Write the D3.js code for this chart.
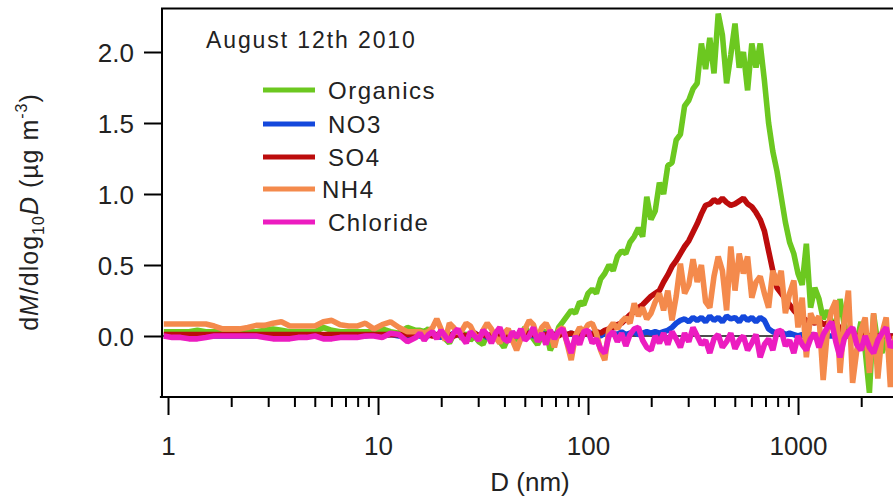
<!DOCTYPE html>
<html>
<head>
<meta charset="utf-8">
<script src="https://cdn.jsdelivr.net/npm/d3@7/dist/d3.min.js"></script>
<style>
  html, body { margin: 0; padding: 0; background: #fff; }
  svg { display: block; font-family: "Liberation Sans", Arial, sans-serif; }
</style>
</head>
<body>
<svg id="chart" width="893" height="498"></svg>
<script>
// Particle diameter bins (nm)
const diam = [
  0.955, 1.047, 1.148, 1.259, 1.380, 1.514, 1.660, 1.820, 1.995, 2.188,
  2.399, 2.630, 2.884, 3.162, 3.467, 3.802, 4.169, 4.571, 5.012, 5.495,
  6.026, 6.607, 7.244, 7.943, 8.710, 9.550, 10.47, 11.48, 12.59, 13.80, 15.14,
  15.85, 16.60, 17.38, 18.20, 19.05, 19.95, 20.89, 21.88, 22.91, 23.99,
  25.12, 26.30, 27.54, 28.84, 30.20, 31.62, 33.11, 34.67, 36.31, 38.02,
  39.81, 41.69, 43.65, 45.71, 47.86, 50.12, 52.48, 54.95, 57.54, 60.26,
  63.10, 66.07, 69.18, 72.44, 75.86, 79.43, 83.18, 87.10, 91.20, 95.50,
  100.0, 104.7, 109.6, 114.8, 120.2, 125.9, 131.8, 138.0, 144.5, 151.4,
  158.5, 166.0, 173.8, 182.0, 190.5, 199.5, 208.9, 218.8, 229.1, 239.9,
  251.2, 263.0, 275.4, 288.4, 302.0, 316.2, 331.1, 346.7, 363.1, 380.2,
  398.1, 416.9, 436.5, 457.1, 478.6, 501.2, 524.8, 549.5, 575.4, 602.6,
  631.0, 660.7, 691.8, 724.4, 758.6, 794.3, 831.8, 871.0, 912.0, 955.0,
  1000, 1047, 1096, 1148, 1202, 1259, 1318, 1380, 1445, 1514,
  1585, 1660, 1738, 1820, 1905, 1995, 2089, 2188, 2291, 2399,
  2512, 2630, 2754, 2884
];

// dM/dlog10D (ug m-3) per species, one value per diameter bin
const organics = [
  0.03, 0.03, 0.03, 0.03, 0.04, 0.03, 0.03, 0.03, 0.03, 0.03,
  0.03, 0.03, 0.04, 0.05, 0.04, 0.03, 0.03, 0.03, 0.03, 0.06,
  0.04, 0.03, 0.03, 0.03, 0.03, 0.03, 0.05, 0.03, 0.02, 0.06, 0.04,
  0.04, 0.03, 0.05, 0.02, 0.00, 0.03, -0.02, -0.05, 0.01, 0.03,
  -0.02, 0.02, -0.03, 0.00, -0.04, -0.06, 0.01, -0.02, 0.03, -0.04,
  -0.08, -0.01, 0.02, -0.03, 0.01, 0.06, 0.02, -0.02, -0.06, 0.00,
  0.04, -0.10, -0.04, 0.06, 0.10, 0.14, 0.18, 0.16, 0.24, 0.22,
  0.30, 0.33, 0.30, 0.40, 0.44, 0.50, 0.46, 0.56, 0.60, 0.58,
  0.66, 0.70, 0.76, 0.70, 0.98, 0.82, 0.88, 1.08, 1.00, 1.20,
  1.22, 1.38, 1.42, 1.62, 1.66, 1.74, 1.78, 2.06, 1.88, 2.10,
  1.85, 2.27, 2.12, 1.78, 1.98, 2.20, 1.89, 2.00, 1.73, 2.06,
  1.89, 2.06, 1.80, 1.50, 1.30, 1.16, 0.98, 0.80, 0.66, 0.58,
  0.44, 0.36, 0.65, 0.20, 0.34, 0.26, 0.12, 0.18, 0.10, 0.08,
  0.26, 0.08, 0.02, 0.05, -0.05, 0.10, -0.10, -0.40, 0.15, -0.05,
  -0.12, 0.02, -0.20, -0.10
];

const no3 = [
  0.00, 0.00, 0.00, 0.00, 0.00, 0.00, 0.00, 0.00, 0.00, 0.00,
  0.00, 0.00, 0.00, 0.00, 0.00, 0.00, 0.00, 0.00, 0.00, 0.00,
  0.00, 0.00, 0.00, 0.00, 0.00, 0.01, 0.00, 0.01, 0.00, 0.00, 0.01,
  0.00, 0.01, 0.00, 0.02, 0.00, -0.01, 0.01, 0.00, 0.02, 0.01,
  0.00, -0.01, 0.01, 0.02, 0.00, 0.01, -0.01, 0.00, 0.02, 0.01,
  0.00, 0.01, 0.02, 0.00, -0.01, 0.01, 0.02, 0.00, 0.01, 0.02,
  0.01, 0.02, 0.00, 0.03, 0.02, 0.01, 0.02, 0.00, 0.01, 0.02,
  0.01, 0.02, 0.01, 0.00, 0.02, 0.01, 0.02, 0.01, 0.03, 0.01,
  0.02, 0.03, 0.01, 0.02, 0.03, 0.02, 0.03, 0.02, 0.03, 0.04,
  0.06, 0.09, 0.11, 0.12, 0.10, 0.13, 0.11, 0.13, 0.10, 0.14,
  0.11, 0.13, 0.10, 0.14, 0.12, 0.13, 0.10, 0.14, 0.11, 0.13,
  0.10, 0.13, 0.11, 0.05, 0.03, 0.02, 0.03, 0.01, 0.02, 0.01,
  0.00, 0.01, 0.00, 0.01, 0.00, 0.00, 0.01, 0.00, 0.00, 0.00,
  0.00, 0.00, 0.00, 0.00, 0.00, 0.00, 0.00, 0.00, 0.00, 0.00,
  0.00, 0.00, 0.00, 0.00
];

const so4 = [
  0.01, 0.01, 0.01, 0.01, 0.01, 0.01, 0.01, 0.01, 0.01, 0.01,
  0.01, 0.01, 0.01, 0.01, 0.01, 0.01, 0.01, 0.01, 0.01, 0.01,
  0.01, 0.01, 0.01, 0.01, 0.01, 0.01, 0.01, 0.01, 0.01, 0.01, 0.01,
  0.01, 0.00, 0.01, 0.00, 0.01, 0.01, 0.00, 0.01, 0.00, 0.01,
  0.01, 0.00, 0.01, 0.02, 0.00, 0.01, 0.00, 0.01, 0.01, 0.00,
  0.01, 0.02, 0.00, 0.01, 0.00, 0.01, 0.02, 0.01, 0.00, 0.01,
  0.01, 0.02, 0.01, 0.00, 0.02, 0.01, 0.02, 0.01, 0.02, 0.01,
  0.02, 0.01, 0.03, 0.02, 0.04, 0.05, 0.06, 0.08, 0.09, 0.12,
  0.15, 0.17, 0.20, 0.22, 0.25, 0.28, 0.30, 0.32, 0.38, 0.43,
  0.49, 0.53, 0.58, 0.63, 0.67, 0.73, 0.79, 0.86, 0.92, 0.93,
  0.96, 0.94, 0.97, 0.94, 0.92, 0.93, 0.95, 0.97, 0.93, 0.91,
  0.87, 0.82, 0.74, 0.60, 0.46, 0.34, 0.30, 0.26, 0.22, 0.18,
  0.15, 0.13, 0.11, 0.10, 0.09, 0.11, 0.08, 0.09, 0.06, 0.10,
  0.05, 0.03, 0.02, 0.01, 0.00, 0.01, 0.00, 0.00, 0.01, 0.00,
  0.00, 0.00, 0.00, 0.00
];

const nh4 = [
  0.085, 0.085, 0.085, 0.085, 0.085, 0.085, 0.07, 0.05, 0.05, 0.05,
  0.06, 0.075, 0.075, 0.09, 0.10, 0.07, 0.07, 0.07, 0.07, 0.10,
  0.11, 0.08, 0.07, 0.07, 0.09, 0.05, 0.08, 0.10, 0.06, 0.03, 0.03,
  0.03, 0.02, 0.03, 0.06, 0.12, 0.05, -0.03, 0.09, 0.06, 0.02,
  0.04, 0.09, 0.07, 0.01, -0.03, 0.04, 0.09, 0.05, -0.01, -0.05,
  0.02, 0.05, -0.03, -0.10, -0.02, 0.05, 0.11, 0.08, -0.02, 0.06,
  0.09, 0.03, -0.08, 0.04, 0.06, -0.05, -0.17, 0.00, 0.06, 0.03,
  0.08, 0.09, 0.02, -0.10, -0.17, 0.05, 0.09, 0.05, 0.10, 0.13,
  0.09, 0.23, 0.14, 0.20, 0.12, 0.16, 0.24, 0.30, 0.18, 0.32,
  0.11, 0.28, 0.51, 0.30, 0.36, 0.54, 0.38, 0.50, 0.24, 0.20,
  0.42, 0.56, 0.46, 0.18, 0.63, 0.32, 0.58, 0.44, 0.56, 0.27,
  0.38, 0.42, 0.30, 0.20, 0.46, 0.36, 0.46, 0.16, 0.30, 0.39,
  0.06, 0.27, -0.15, 0.16, 0.09, 0.14, -0.31, 0.04, 0.18, 0.25,
  -0.26, 0.10, 0.32, -0.33, -0.10, 0.04, 0.13, -0.26, 0.16, -0.30,
  0.02, 0.13, -0.36, 0.00
];

const chloride = [
  0.00, -0.01, -0.01, -0.02, -0.02, -0.01, 0.00, 0.00, 0.00, 0.00,
  0.00, 0.00, -0.01, -0.02, -0.02, -0.02, -0.01, -0.01, 0.00, -0.02,
  -0.02, -0.01, -0.01, -0.01, 0.00, 0.00, -0.01, 0.02, 0.01, -0.04, -0.01,
  0.02, -0.03, 0.01, 0.03, -0.02, 0.04, 0.00, -0.04, 0.02, 0.05,
  -0.01, -0.05, 0.03, 0.00, -0.03, 0.04, 0.01, -0.05, 0.02, 0.06,
  -0.02, -0.04, 0.03, -0.01, 0.05, -0.03, 0.00, 0.06, -0.04, 0.02,
  -0.06, 0.04, -0.02, 0.03, 0.05, -0.04, -0.12, 0.00, -0.06, 0.03,
  0.04, -0.05, -0.02, -0.09, -0.12, 0.00, 0.03, -0.04, 0.02, -0.07,
  0.01, 0.05, 0.06, -0.03, -0.08, -0.10, 0.00, -0.05, 0.02, -0.06,
  0.03, -0.02, -0.08, 0.02, -0.04, 0.06, 0.00, -0.06, -0.03, -0.12,
  -0.02, 0.01, -0.08, -0.04, 0.02, -0.09, -0.03, 0.00, -0.10, -0.05,
  0.01, -0.15, -0.06, -0.02, -0.10, 0.03, 0.04, -0.07, -0.03, -0.12,
  0.00, -0.06, -0.10, -0.02, 0.02, -0.08, 0.01, 0.06, 0.10, -0.04,
  -0.15, -0.02, 0.03, 0.06, -0.06, -0.10, 0.00, -0.08, -0.12, -0.03,
  0.02, 0.06, -0.08, -0.04
];

const speciesNames = ["Organics", "NO3", "SO4", "NH4", "Chloride"];
const speciesColors = ["#6cc820", "#1448dc", "#bc0c0c", "#f48a4c", "#ec1cc0"];
const speciesValues = [organics, no3, so4, nh4, chloride];

const yTicks = [0, 0.5, 1.0, 1.5, 2.0];
const xMajorTicks = [1, 10, 100, 1000];
const xMinorTicks = [2, 3, 4, 5, 6, 7, 8, 9, 20, 30, 40, 50, 60, 70, 80, 90,
                     200, 300, 400, 500, 600, 700, 800, 900, 2000];

const titleText = "August 12th 2010";
const xTitle = "D (nm)";

// ---- scales ----
const x = d3.scaleLog().domain([1, 1000]).range([168, 798]);
const y = d3.scaleLinear().domain([0, 2]).range([336, 52]);

const svg = d3.select("#chart");
const plotLeft = 162, plotRight = 893;
const plotTop = y(2.306), plotBottom = y(-0.42);

svg.append("defs").append("clipPath").attr("id", "plotclip")
  .append("rect")
  .attr("x", plotLeft).attr("y", plotTop)
  .attr("width", plotRight - plotLeft).attr("height", plotBottom - plotTop);

// zero reference line
svg.append("line")
  .attr("x1", plotLeft).attr("x2", plotRight)
  .attr("y1", y(0)).attr("y2", y(0))
  .attr("stroke", "#111").attr("stroke-width", 1.3);

// ---- size distributions ----
const line = d3.line()
  .x((d, i) => x(diam[i]))
  .y(d => y(d));

const dataG = svg.append("g").attr("clip-path", "url(#plotclip)");
speciesValues.forEach((vals, k) => {
  dataG.append("path")
    .datum(vals)
    .attr("d", line)
    .attr("fill", "none")
    .attr("stroke", speciesColors[k])
    .attr("stroke-width", 5.6)
    .attr("stroke-linejoin", "bevel");
});

// ---- frame ----
svg.append("line")
  .attr("x1", plotLeft).attr("x2", plotLeft)
  .attr("y1", plotTop).attr("y2", plotBottom + 1)
  .attr("stroke", "#000").attr("stroke-width", 2);
svg.append("line")
  .attr("x1", plotLeft - 1).attr("x2", plotRight)
  .attr("y1", plotTop).attr("y2", plotTop)
  .attr("stroke", "#000").attr("stroke-width", 2);
svg.append("line")
  .attr("x1", x(0.915)).attr("x2", plotRight)
  .attr("y1", 397).attr("y2", 397)
  .attr("stroke", "#000").attr("stroke-width", 2);

// ---- x axis ----
const xAxisMajor = d3.axisBottom(x)
  .tickValues(xMajorTicks)
  .tickFormat(d3.format("d"))
  .tickSize(18)
  .tickPadding(22);
const gx = svg.append("g").attr("transform", "translate(0,397)").call(xAxisMajor);
gx.select(".domain").remove();
gx.selectAll(".tick line").attr("stroke", "#000").attr("stroke-width", 2);
gx.selectAll(".tick text")
  .attr("fill", "#222")
  .style("font-size", "26px");

const xAxisMinor = d3.axisBottom(x)
  .tickValues(xMinorTicks)
  .tickFormat("")
  .tickSize(10);
const gxm = svg.append("g").attr("transform", "translate(0,397)").call(xAxisMinor);
gxm.select(".domain").remove();
gxm.selectAll(".tick line").attr("stroke", "#000").attr("stroke-width", 2);

// ---- y axis ----
const yAxis = d3.axisLeft(y)
  .tickValues(yTicks)
  .tickFormat(d3.format(".1f"))
  .tickSize(18)
  .tickPadding(10);
const gy = svg.append("g").attr("transform", `translate(${plotLeft},0)`).call(yAxis);
gy.select(".domain").remove();
gy.selectAll(".tick line").attr("stroke", "#000").attr("stroke-width", 2);
gy.selectAll(".tick text")
  .attr("fill", "#222")
  .attr("dy", "0.36em")
  .style("font-size", "26px");

// ---- axis titles ----
svg.append("text")
  .attr("x", 530).attr("y", 491)
  .attr("text-anchor", "middle")
  .attr("fill", "#222")
  .style("font-size", "26px")
  .text(xTitle);

const yl = svg.append("text")
  .attr("transform", "translate(38,212) rotate(-90)")
  .attr("text-anchor", "middle")
  .attr("fill", "#222")
  .style("font-size", "25px")
  .style("letter-spacing", "1px");
yl.append("tspan").text("d");
yl.append("tspan").attr("font-style", "italic").text("M");
yl.append("tspan").text("/dlog");
yl.append("tspan").attr("dy", 6).style("font-size", "16px").text("10");
yl.append("tspan").attr("dy", -6).attr("font-style", "italic").text("D");
yl.append("tspan").text(" (\u00b5g m");
yl.append("tspan").attr("dy", -11).style("font-size", "16px").text("-3");
yl.append("tspan").attr("dy", 11).text(")");

// ---- annotation and legend ----
svg.append("text")
  .attr("x", 206).attr("y", 48)
  .attr("fill", "#222")
  .style("font-size", "23px")
  .style("letter-spacing", "1.9px")
  .text(titleText);

const legendY = [90, 124, 157, 189, 222];
const legendTextX = [328, 328, 328, 322, 328];
speciesNames.forEach((name, k) => {
  svg.append("line")
    .attr("x1", 263).attr("x2", 315)
    .attr("y1", legendY[k]).attr("y2", legendY[k])
    .attr("stroke", speciesColors[k]).attr("stroke-width", 5);
  svg.append("text")
    .attr("x", legendTextX[k]).attr("y", legendY[k] + 9)
    .attr("fill", "#222")
    .style("font-size", "24px")
    .style("letter-spacing", "1.5px")
    .text(name);
});
</script>
</body>
</html>
